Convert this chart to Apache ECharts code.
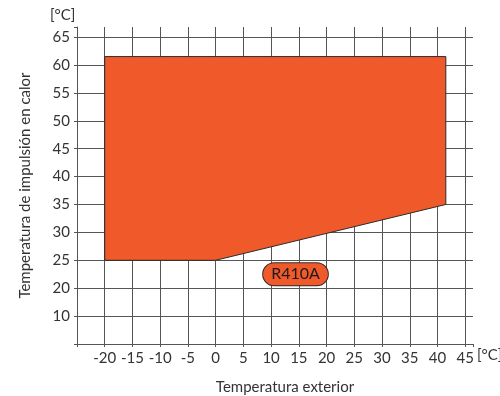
<!DOCTYPE html>
<html>
<head>
<meta charset="utf-8">
<script src="https://cdn.jsdelivr.net/npm/echarts@6/dist/echarts.min.js"></script>
<style>
  html, body { margin: 0; padding: 0; background: #fff; }
  #chart { width: 500px; height: 396px; }
</style>
</head>
<body>
<div id="chart"></div>
<script>
// operating envelope (outdoor temp, supply temp)
const envelopeX = [-20, -20, 41.5, 41.5, 0];
const envelopeY = [25, 61.5, 61.5, 35, 25];

// refrigerant tag
const tagText = 'R410A';
const tagPos = [14.4, 22.5];

// tick labels as printed on the original (15 line is labelled "10")
const yTickValues = [15, 20, 25, 30, 35, 40, 45, 50, 55, 60, 65];
const yTickLabels = ['10', '20', '25', '30', '35', '40', '45', '50', '55', '60', '65'];
const xTickValues = [-20, -15, -10, -5, 0, 5, 10, 15, 20, 25, 30, 35, 40, 45];

const font = 'Lato, "Noto Sans", sans-serif';
const textColor = '#333';
const gridColor = '#555';
const fillColor = '#f05a2a';

const chart = echarts.init(document.getElementById('chart'));

const envelope = envelopeX.map((x, i) => [x, envelopeY[i]]);

chart.setOption({
  animation: false,
  grid: { left: 77, right: 27, top: 27, bottom: 52, containLabel: false, outerBoundsMode: 'none' },
  xAxis: {
    type: 'value',
    min: -25,
    max: 46.4,
    interval: 5,
    name: 'Temperatura exterior',
    nameLocation: 'middle',
    nameGap: 36,
    nameTextStyle: { color: textColor, fontFamily: font, fontSize: 15, padding: [0, 0, 0, 20] },
    axisLine: { show: true, onZero: false, lineStyle: { color: gridColor } },
    axisTick: { show: true, length: 3, lineStyle: { color: gridColor } },
    axisLabel: {
      color: textColor, fontFamily: font, fontSize: 15, margin: 7,
      formatter: (v) => xTickValues.includes(v) ? String(v) : ''
    },
    splitLine: { show: true, showMaxLine: false, showMinLine: false, lineStyle: { color: gridColor, width: 1 } }
  },
  yAxis: {
    type: 'value',
    min: 10,
    max: 66.8,
    interval: 5,
    name: 'Temperatura de impulsión en calor',
    nameLocation: 'middle',
    nameGap: 44,
    nameTextStyle: { color: textColor, fontFamily: font, fontSize: 15 },
    axisLine: { show: true, onZero: false, lineStyle: { color: gridColor } },
    axisTick: { show: true, length: 3, lineStyle: { color: gridColor } },
    axisLabel: {
      color: textColor, fontFamily: font, fontSize: 15, margin: 7,
      formatter: (v) => {
        const i = yTickValues.indexOf(v);
        return i >= 0 ? yTickLabels[i] : '';
      }
    },
    splitLine: { show: true, showMaxLine: false, showMinLine: false, lineStyle: { color: gridColor, width: 1 } }
  },
  graphic: [
    { type: 'text', left: 50, top: 8, style: { text: '[°C]', fill: textColor, font: '15px ' + font } },
    { type: 'text', left: 477, top: 348, style: { text: '[°C]', fill: textColor, font: '15px ' + font } }
  ],
  series: [
    {
      type: 'custom',
      data: [0],
      z: 3,
      renderItem: (params, api) => ({
        type: 'polygon',
        shape: { points: envelope.map((p) => api.coord(p)) },
        style: { fill: fillColor, stroke: '#2b2b2b', lineWidth: 1 }
      })
    },
    {
      type: 'scatter',
      symbolSize: 0,
      z: 4,
      itemStyle: { opacity: 1 },
      data: [tagPos],
      label: {
        show: true,
        position: 'inside',
        formatter: tagText,
        color: '#1a1a1a',
        fontFamily: font,
        fontSize: 16,
        backgroundColor: fillColor,
        borderColor: '#2b2b2b',
        borderWidth: 1,
        borderRadius: 12,
        padding: [3, 8, 3, 8]
      }
    }
  ]
});
</script>
</body>
</html>
